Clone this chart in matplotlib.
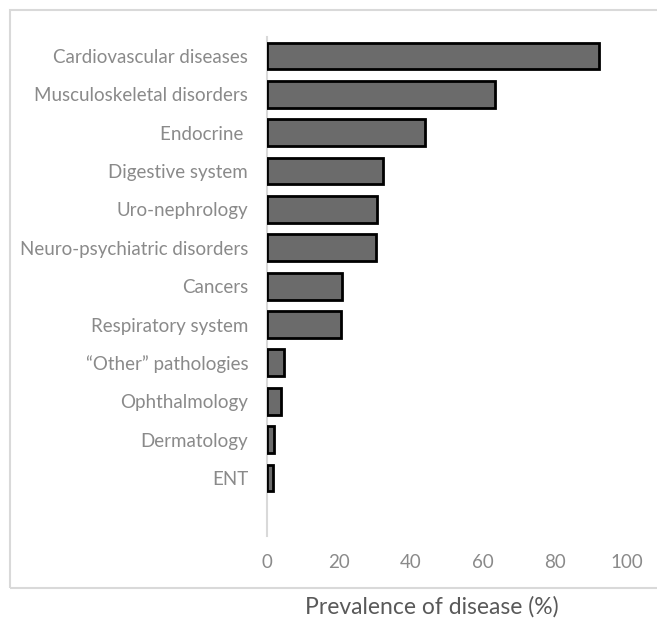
import matplotlib
matplotlib.use("Agg")
import matplotlib.pyplot as plt
from matplotlib.patches import Rectangle

categories = [
    "Cardiovascular diseases",
    "Musculoskeletal disorders",
    "Endocrine ",
    "Digestive system",
    "Uro-nephrology",
    "Neuro-psychiatric disorders",
    "Cancers",
    "Respiratory system",
    "\u201cOther\u201d pathologies",
    "Ophthalmology",
    "Dermatology",
    "ENT",
]
prevalence = [92.2, 63.2, 43.9, 32.1, 30.5, 30.3, 20.8, 20.6, 4.8, 3.8, 1.9, 1.7]
xticks = [0, 20, 40, 60, 80, 100]

W, H = 657, 628
fig = plt.figure(figsize=(W / 100, H / 100), dpi=100)
plt.rcParams["font.family"] = ["Lato", "DejaVu Sans"]

# light frame around the plot area
fig.patches.append(Rectangle((10 / W, 1 - 588 / H), 1.0, (588 - 10) / H,
                             transform=fig.transFigure, fill=False,
                             edgecolor="#d9d9d9", linewidth=1.5, zorder=0))

left, right = 267, 627
top, bottom = 36.8, 535.5
ax = fig.add_axes([left / W, 1 - bottom / H, (right - left) / W, (bottom - top) / H])

ypos = list(range(len(categories)))
ax.barh(ypos, prevalence, height=0.70, color="#6b6b6b", edgecolor="black",
        linewidth=2.0, zorder=3)

ax.set_xlim(0, 100)
ax.set_ylim(len(categories) + 0.5, -0.5)
ax.set_xticks(xticks)
ax.set_xticklabels([str(t) for t in xticks])
ax.set_yticks(ypos)
ax.set_yticklabels(categories)

for s in ["top", "right", "bottom"]:
    ax.spines[s].set_visible(False)
ax.spines["left"].set_color("#d9d9d9")
ax.spines["left"].set_linewidth(1.5)

ax.tick_params(axis="both", length=0, labelcolor="#8a8a8a")
ax.tick_params(axis="x", pad=13, labelsize=13.5)
ax.tick_params(axis="y", pad=13.5, labelsize=13.5)

fig.text(432 / W, 1 - 607 / H, "Prevalence of disease (%)", ha="center",
         va="center", fontsize=16.5, color="#595959")

fig.savefig("out.png", dpi=100)
